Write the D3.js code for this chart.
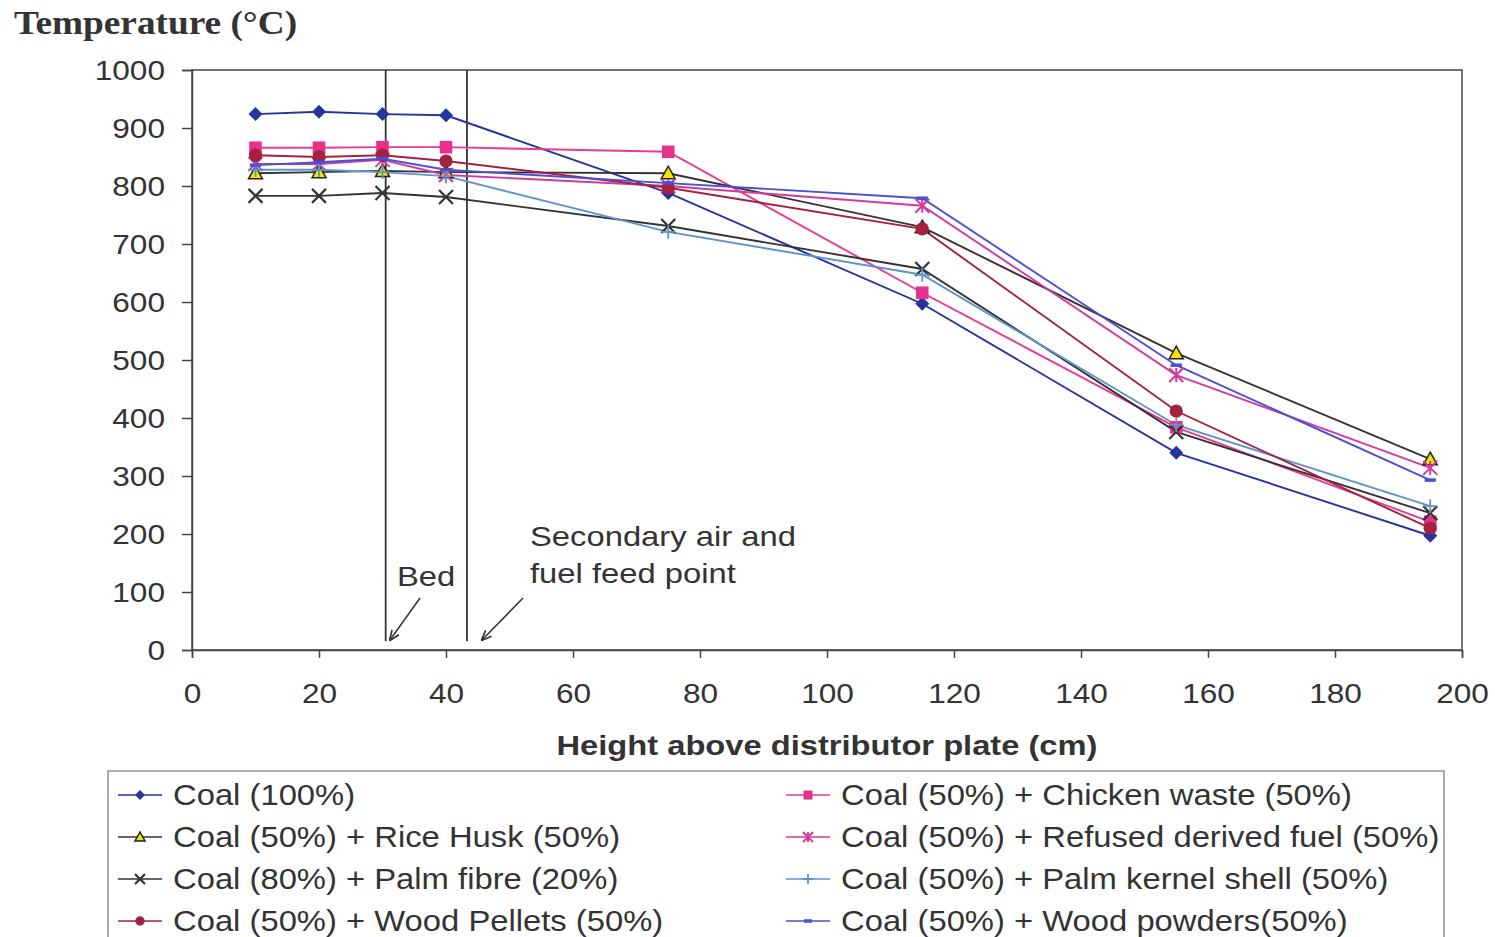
<!DOCTYPE html>
<html>
<head>
<meta charset="utf-8">
<script src="https://cdn.jsdelivr.net/npm/d3@7"></script>
<style>
  body { margin: 0; background: #fff; }
  svg { display: block; }
</style>
</head>
<body>
<div id="chart"></div>
<script>
// heights above distributor plate (cm)
const heights = [10, 20, 30, 40, 75, 115, 155, 195];

// temperature readings for each fuel mix (°C)
const coal100 = [924, 928, 924, 922, 788, 597, 340, 197];
const chickenWaste = [866, 866, 867, 867, 859, 616, 384, 221];
const riceHusk = [822, 824, 826, 824, 822, 729, 512, 329];
const palmFibre = [783, 783, 788, 781, 731, 657, 376, 236];
const woodPellets = [853, 850, 853, 843, 797, 726, 412, 210];
const refusedFuel = [838, 838, 845, 819, 800, 766, 474, 314];
const palmKernel = [828, 828, 824, 817, 721, 647, 388, 248];
const woodPowders = [836, 841, 847, 828, 805, 779, 491, 293];

const seriesNames = [
  "Coal (100%)",
  "Coal (50%) + Chicken waste (50%)",
  "Coal (50%) + Rice Husk (50%)",
  "Coal (50%) + Refused derived fuel (50%)",
  "Coal (80%) + Palm fibre (20%)",
  "Coal (50%) + Palm kernel shell (50%)",
  "Coal (50%) + Wood Pellets (50%)",
  "Coal (50%) + Wood powders(50%)"
];
const seriesValues = [coal100, chickenWaste, riceHusk, refusedFuel, palmFibre, palmKernel, woodPellets, woodPowders];

const xTicks = [0, 20, 40, 60, 80, 100, 120, 140, 160, 180, 200];
const yTicks = [0, 100, 200, 300, 400, 500, 600, 700, 800, 900, 1000];

// marker drawing styles for each series
const styles = [
  {color: "#26359c", marker: "diamond", fill: "#26359c"},
  {color: "#ea3a93", marker: "square", fill: "#e8318c"},
  {color: "#3a3232", marker: "triangle", fill: "#f2e600"},
  {color: "#d23aa0", marker: "asterisk", fill: "none"},
  {color: "#333333", marker: "cross", fill: "none"},
  {color: "#5f93cc", marker: "plus", fill: "none"},
  {color: "#a3223f", marker: "circle", fill: "#a3223f"},
  {color: "#4b4fd2", marker: "dash", fill: "none"}
];

const w = 1495, h = 937;
const padLeft = 192, padRight = 1462, padTop = 70, padBottom = 650;
const sansFont = "Liberation Sans, Arial, sans-serif";

const svg = d3.select("#chart").append("svg")
  .attr("width", w)
  .attr("height", h);

// the scanned chart has its lettering a bit wider than normal
function stretch(sel, factor) {
  sel.each(function() {
    const len = this.getComputedTextLength();
    d3.select(this).attr("textLength", len * factor).attr("lengthAdjust", "spacingAndGlyphs");
  });
}

const xScale = d3.scaleLinear().domain([0, 200]).range([padLeft, padRight]);
const yScale = d3.scaleLinear().domain([0, 1000]).range([padBottom, padTop]);

// plot frame
svg.append("rect")
  .attr("x", padLeft).attr("y", padTop)
  .attr("width", padRight - padLeft).attr("height", padBottom - padTop)
  .attr("fill", "none").attr("stroke", "#444").attr("stroke-width", 1.5);

// axes
const xAxis = svg.append("g")
  .attr("transform", "translate(0," + padBottom + ")")
  .call(d3.axisBottom(xScale).tickValues(xTicks).tickFormat(d3.format("d")).tickSize(8).tickPadding(25));
const yAxis = svg.append("g")
  .attr("transform", "translate(" + padLeft + ",0)")
  .call(d3.axisLeft(yScale).tickValues(yTicks).tickFormat(d3.format("d")).tickSize(10).tickPadding(17));

[xAxis, yAxis].forEach(g => {
  g.selectAll("path, line").attr("stroke", "#444").attr("stroke-width", 1.5);
  g.selectAll("text")
    .attr("font-family", sansFont)
    .attr("font-size", 27)
    .attr("fill", "#333");
});
xAxis.selectAll("text").attr("dy", "0.75em");
yAxis.selectAll("text").attr("dy", "0.36em");
stretch(xAxis.selectAll("text"), 1.17);
stretch(yAxis.selectAll("text"), 1.17);

// axis titles
const yTitle = svg.append("text")
  .attr("x", 14).attr("y", 34)
  .attr("font-family", "Liberation Serif, Times New Roman, serif")
  .attr("font-weight", "bold")
  .attr("font-size", 33)
  .attr("fill", "#333")
  .text("Temperature (°C)");
stretch(yTitle, 1.13);

const xTitle = svg.append("text")
  .attr("x", 827).attr("y", 755)
  .attr("text-anchor", "middle")
  .attr("font-family", sansFont)
  .attr("font-weight", "bold")
  .attr("font-size", 27)
  .attr("fill", "#333")
  .text("Height above distributor plate (cm)");
stretch(xTitle, 1.21);

// bed and secondary air marker lines
[30.5, 43.3].forEach(v => {
  svg.append("line")
    .attr("x1", xScale(v)).attr("x2", xScale(v))
    .attr("y1", padTop).attr("y2", yScale(15))
    .attr("stroke", "#333").attr("stroke-width", 1.8);
});

svg.append("defs").append("marker")
  .attr("id", "arrow")
  .attr("viewBox", "0 0 10 10")
  .attr("refX", 9).attr("refY", 5)
  .attr("markerWidth", 7).attr("markerHeight", 7)
  .attr("orient", "auto")
  .append("path")
  .attr("d", "M0,1 L10,5 L0,9")
  .attr("fill", "none").attr("stroke", "#333").attr("stroke-width", 1.6);

svg.append("line")
  .attr("x1", 420).attr("y1", 598).attr("x2", 390).attr("y2", 640)
  .attr("stroke", "#333").attr("stroke-width", 1.5).attr("marker-end", "url(#arrow)");
svg.append("line")
  .attr("x1", 523).attr("y1", 598).attr("x2", 482).attr("y2", 640)
  .attr("stroke", "#333").attr("stroke-width", 1.5).attr("marker-end", "url(#arrow)");

const notes = svg.append("g")
  .attr("font-family", sansFont).attr("font-size", 28).attr("fill", "#333");
notes.append("text").attr("x", 397).attr("y", 586).text("Bed");
notes.append("text").attr("x", 530).attr("y", 546).text("Secondary air and");
notes.append("text").attr("x", 530).attr("y", 583).text("fuel feed point");
stretch(notes.selectAll("text"), 1.17);

// draws one marker at (0,0) in the given group
function drawMarker(g, st, s) {
  if (st.marker == "diamond") {
    g.append("path").attr("d", "M0," + (-s) + "L" + s + ",0L0," + s + "L" + (-s) + ",0Z")
      .attr("fill", st.fill);
  } else if (st.marker == "square") {
    g.append("rect").attr("x", -s * 0.9).attr("y", -s * 0.9)
      .attr("width", s * 1.8).attr("height", s * 1.8).attr("fill", st.fill);
  } else if (st.marker == "triangle") {
    g.append("path").attr("d", "M0," + (-s) + "L" + s + "," + (s * 0.8) + "L" + (-s) + "," + (s * 0.8) + "Z")
      .attr("fill", st.fill).attr("stroke", "#222").attr("stroke-width", 1.5);
  } else if (st.marker == "circle") {
    g.append("circle").attr("r", s * 0.95).attr("fill", st.fill);
  } else if (st.marker == "cross") {
    g.append("path").attr("d", "M" + (-s) + "," + (-s) + "L" + s + "," + s + "M" + s + "," + (-s) + "L" + (-s) + "," + s)
      .attr("stroke", st.color).attr("stroke-width", 2.2);
  } else if (st.marker == "asterisk") {
    g.append("path").attr("d", "M" + (-s) + "," + (-s) + "L" + s + "," + s + "M" + s + "," + (-s) + "L" + (-s) + "," + s + "M0," + (-s) + "L0," + s)
      .attr("stroke", st.color).attr("stroke-width", 2);
  } else if (st.marker == "plus") {
    g.append("path").attr("d", "M" + (-s) + ",0L" + s + ",0M0," + (-s) + "L0," + s)
      .attr("stroke", st.color).attr("stroke-width", 1.8);
  } else if (st.marker == "dash") {
    g.append("path").attr("d", "M" + (-s * 0.8) + ",0L" + (s * 0.8) + ",0")
      .attr("stroke", st.color).attr("stroke-width", 3.5);
  }
}

const line = d3.line()
  .x((d, i) => xScale(heights[i]))
  .y(d => yScale(d));

// series lines then markers
seriesValues.forEach((vals, k) => {
  const st = styles[k];
  svg.append("path")
    .attr("d", line(vals))
    .attr("fill", "none")
    .attr("stroke", st.color)
    .attr("stroke-width", 1.9);
});
seriesValues.forEach((vals, k) => {
  const st = styles[k];
  vals.forEach((v, i) => {
    const g = svg.append("g")
      .attr("transform", "translate(" + xScale(heights[i]) + "," + yScale(v) + ")");
    drawMarker(g, st, 7);
  });
});

// legend
svg.append("rect")
  .attr("x", 108).attr("y", 771)
  .attr("width", 1336).attr("height", 200)
  .attr("fill", "none").attr("stroke", "#777").attr("stroke-width", 1.2);

seriesNames.forEach((name, k) => {
  const st = styles[k];
  const col = k % 2, row = Math.floor(k / 2);
  const lx = col == 0 ? 118 : 786;
  const ly = 795 + row * 42;
  const g = svg.append("g");
  g.append("line")
    .attr("x1", lx).attr("x2", lx + 44)
    .attr("y1", ly).attr("y2", ly)
    .attr("stroke", st.color).attr("stroke-width", 1.7);
  drawMarker(g.append("g").attr("transform", "translate(" + (lx + 22) + "," + ly + ")"), st, 5);
  const t = g.append("text")
    .attr("x", lx + 55).attr("y", ly)
    .attr("dy", "0.35em")
    .attr("font-family", sansFont)
    .attr("font-size", 29)
    .attr("fill", "#333")
    .text(name);
  stretch(t, 1.13);
});
</script>
</body>
</html>
